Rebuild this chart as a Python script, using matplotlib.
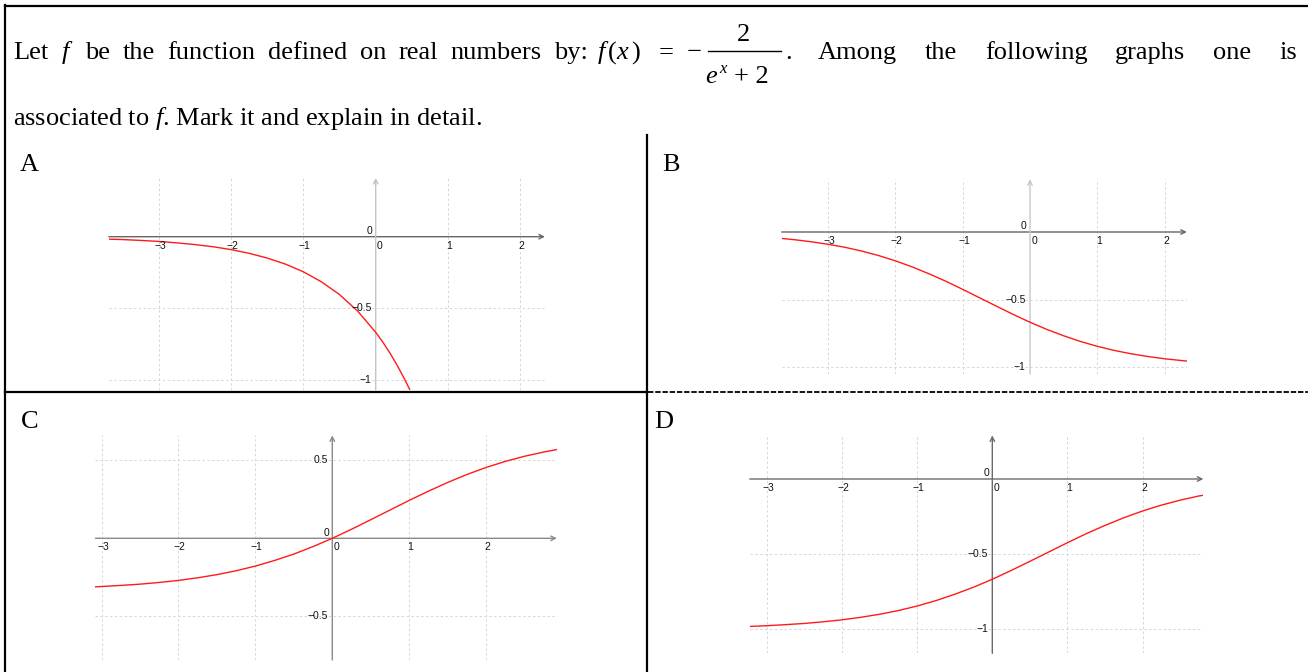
import matplotlib.pyplot as plt
from matplotlib.lines import Line2D

plt.rcParams['font.family'] = ['Liberation Serif', 'DejaVu Serif']
plt.rcParams['mathtext.fontset'] = 'custom'
plt.rcParams['mathtext.rm'] = 'Liberation Serif'
plt.rcParams['mathtext.it'] = 'Liberation Serif:italic'

W, H = 1308, 672
fig = plt.figure(figsize=(W / 100, H / 100), dpi=100)


def fx(px):
    return px / W


def fy(py):
    return 1 - py / H


# curve points
xa = [-3.7, -3.5, -3.25, -3.0, -2.75, -2.5, -2.25, -2.0, -1.75, -1.5, -1.25, -1.0,
      -0.75, -0.5, -0.25, 0.0, 0.1, 0.2, 0.3, 0.4, 0.47]
ya = [-0.017, -0.020, -0.026, -0.033, -0.043, -0.055, -0.070, -0.090, -0.116, -0.149,
      -0.191, -0.245, -0.315, -0.404, -0.519, -0.667, -0.737, -0.814, -0.900, -0.995, -1.066]

xb = [-3.7, -3.5, -3.25, -3.0, -2.75, -2.5, -2.25, -2.0, -1.75, -1.5, -1.25, -1.0, -0.75,
      -0.5, -0.25, 0.0, 0.25, 0.5, 0.75, 1.0, 1.25, 1.5, 1.75, 2.0, 2.25, 2.33]
yb = [-0.047, -0.057, -0.072, -0.091, -0.113, -0.141, -0.174, -0.213, -0.258, -0.309,
      -0.364, -0.424, -0.486, -0.548, -0.609, -0.667, -0.720, -0.767, -0.809, -0.845,
      -0.875, -0.900, -0.920, -0.937, -0.950, -0.954]

xc = [-3.08, -3.0, -2.75, -2.5, -2.25, -2.0, -1.75, -1.5, -1.25, -1.0, -0.75, -0.5, -0.25,
      0.0, 0.25, 0.5, 0.75, 1.0, 1.25, 1.5, 1.75, 2.0, 2.25, 2.5, 2.75, 2.92]
yc = [-0.311, -0.309, -0.302, -0.294, -0.283, -0.270, -0.253, -0.233, -0.208, -0.178,
      -0.142, -0.101, -0.053, 0.0, 0.058, 0.119, 0.181, 0.243, 0.302, 0.358, 0.409, 0.454,
      0.493, 0.526, 0.553, 0.569]

xd = [-3.23, -3.0, -2.75, -2.5, -2.25, -2.0, -1.75, -1.5, -1.25, -1.0, -0.75, -0.5, -0.25,
      0.0, 0.25, 0.5, 0.75, 1.0, 1.25, 1.5, 1.75, 2.0, 2.25, 2.5, 2.75, 2.81]
yd = [-0.981, -0.976, -0.969, -0.961, -0.950, -0.937, -0.920, -0.900, -0.875, -0.845,
      -0.809, -0.767, -0.720, -0.667, -0.609, -0.548, -0.486, -0.424, -0.364, -0.309,
      -0.258, -0.213, -0.174, -0.141, -0.113, -0.108]

xticks = [-3, -2, -1, 0, 1, 2]
yticks_a = [-0.5, -1]
yticks_b = [-0.5, -1]
yticks_c = [0.5, -0.5]
yticks_d = [-0.5, -1]


def fmt(v):
    s = f'{v:g}'
    return s.replace('-', '\u2212')


def panel(ox, oy, sx, sy, xlim, ylim, xs, ys, yticks, xcol, ycol):
    left = ox + xlim[0] * sx
    right = ox + xlim[1] * sx
    top = oy - ylim[1] * sy
    bottom = oy - ylim[0] * sy
    ax = fig.add_axes([fx(left), fy(bottom), (right - left) / W, (bottom - top) / H])
    ax.set_xlim(*xlim)
    ax.set_ylim(*ylim)
    ax.axis('off')
    grid = dict(color='#d6d6d6', lw=0.7, ls=(0, (2.5, 2.5)), zorder=1)
    for t in xticks:
        if t != 0:
            ax.axvline(t, **grid)
    for t in yticks:
        ax.axhline(t, **grid)
    ax.annotate('', xy=(xlim[1], 0), xytext=(xlim[0], 0),
                arrowprops=dict(arrowstyle='->', color=xcol, lw=1, shrinkA=0, shrinkB=0,
                                mutation_scale=8), zorder=2)
    ax.annotate('', xy=(0, ylim[1]), xytext=(0, ylim[0]),
                arrowprops=dict(arrowstyle='->', color=ycol, lw=1, shrinkA=0, shrinkB=0,
                                mutation_scale=8), zorder=2)
    ax.plot(xs, ys, color='#ff1a1a', lw=1.0, zorder=3)
    lab = dict(textcoords='offset points', fontsize=7.5, family='Liberation Sans',
               color='#111111', va='center')
    for t in xticks:
        dx = 3 if t == 0 else 1
        ax.annotate(fmt(t), xy=(t, 0), xytext=(dx, -6.5), ha='center', **lab)
    ax.annotate('0', xy=(0, 0), xytext=(-4.5, 4), ha='center', **lab)
    for t in yticks:
        ax.annotate(fmt(t), xy=(0, t), xytext=(-3, 0), ha='right', **lab)
    return ax


panel(375.7, 236.7, 72.3, 143.3, (-3.69, 2.34), (-1.07, 0.41), xa, ya, yticks_a,
      '#666666', '#c4c4c4')
panel(1030, 232, 67.3, 135.3, (-3.69, 2.33), (-1.05, 0.39), xb, yb, yticks_b,
      '#666666', '#c8c8c8')
panel(332.3, 538.3, 76.9, 156, (-3.08, 2.92), (-0.78, 0.66), xc, yc, yticks_c,
      '#8a8a8a', '#8a8a8a')
panel(992.3, 479, 75.1, 150.3, (-3.23, 2.81), (-1.16, 0.29), xd, yd, yticks_d,
      '#6a6a6a', '#6a6a6a')


# table lines
def line(xs, ys, **kw):
    fig.add_artist(Line2D([fx(v) for v in xs], [fy(v) for v in ys], color='black', **kw))


line([5, W], [5.5, 5.5], lw=1.6)
line([5, 5], [5, H], lw=1.6)
line([647, 647], [135, H], lw=1.6)
line([5, 647], [391.7, 391.7], lw=1.6)
line([648, W], [391.7, 391.7], lw=1.3, ls=(0, (3, 1)))

# text
size = 19
renderer = fig.canvas.get_renderer()


def justify(words, x0, x1, y):
    texts = [fig.text(0, fy(y), w, fontsize=size, va='baseline') for w in words]
    widths = [t.get_window_extent(renderer).width for t in texts]
    gap = (x1 - x0 - sum(widths)) / (len(words) - 1)
    x = x0
    for t, w in zip(texts, widths):
        t.set_x(fx(x))
        x += w + gap


justify(['Let', '$f$', 'be', 'the', 'function', 'defined', 'on', 'real', 'numbers', 'by:'],
        13, 588, 59)
fig.text(fx(597), fy(59), r'$f\,(x\,)$', fontsize=size, va='baseline')
fig.text(fx(659), fy(59), '=', fontsize=size, va='baseline')
fig.text(fx(687), fy(59), '\u2212', fontsize=size, va='baseline')
fig.text(fx(743), fy(41), '2', fontsize=size, va='baseline', ha='center')
line([708, 781], [51, 51], lw=1.0)
fig.text(fx(705), fy(83), '$e$', fontsize=size, va='baseline')
fig.text(fx(719), fy(73), '$x$', fontsize=12, va='baseline')
fig.text(fx(734), fy(83), '+ 2', fontsize=size, va='baseline')
fig.text(fx(785), fy(59), '.', fontsize=size, va='baseline')
justify(['Among', 'the', 'following', 'graphs', 'one', 'is'], 818, 1297, 59)
fig.text(fx(13), fy(125), r'associated to $f$. Mark it and explain in detail.',
         fontsize=size, va='baseline')

for name, px, py in [('A', 20, 171), ('B', 662, 171), ('C', 21, 428), ('D', 654, 428)]:
    fig.text(fx(px), fy(py), name, fontsize=size, va='baseline')

fig.savefig('out.png', dpi=100)
